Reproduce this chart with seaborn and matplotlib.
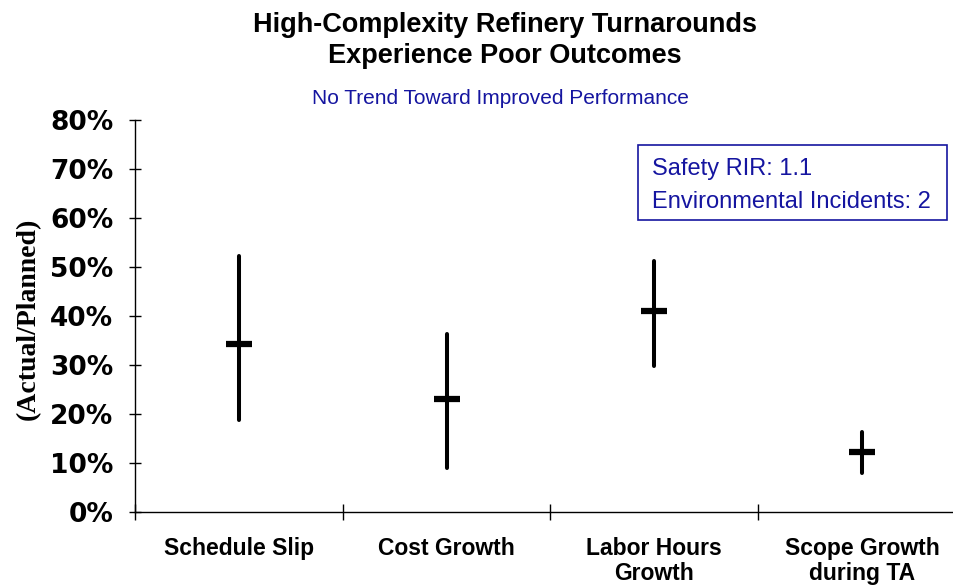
import pandas as pd
import numpy as np
import matplotlib
matplotlib.use("Agg")
import matplotlib.pyplot as plt
from matplotlib.patches import Rectangle
import seaborn as sns

# data (fractions)
categories = ["Schedule Slip", "Cost Growth", "Labor Hours\nGrowth", "Scope Growth\nduring TA"]
low_vals = [0.188, 0.090, 0.298, 0.080]
mid_vals = [0.343, 0.231, 0.410, 0.123]
high_vals = [0.522, 0.363, 0.512, 0.163]
y_ticks = [0.0, 0.1, 0.2, 0.3, 0.4, 0.5, 0.6, 0.7, 0.8]

# long form: median of (low, mid, high) = mid, 100% interval = low..high
rows = []
for c, lo, md, hi in zip(categories, low_vals, mid_vals, high_vals):
    for v in (lo, md, hi):
        rows.append({"cat": c, "val": v})
df = pd.DataFrame(rows)

sns.set_style("white")
plt.rcParams["font.family"] = ["Liberation Sans", "DejaVu Sans"]
plt.rcParams["text.color"] = "black"
plt.rcParams["axes.labelcolor"] = "black"
plt.rcParams["xtick.color"] = "black"
plt.rcParams["ytick.color"] = "black"

navy = "#1515a0"
fig = plt.figure(figsize=(9.54, 5.88), dpi=100)
ax = fig.add_axes([135 / 954, 1 - 512 / 588, (966 - 135) / 954, (512 - 120) / 588])

sns.pointplot(data=df, x="cat", y="val", order=categories, estimator="median",
              errorbar=("pi", 100), color="black", marker="_", markersize=19,
              markeredgewidth=4.5, linestyle="none", err_kws={"linewidth": 2.9}, ax=ax)

ax.set_xlim(-0.5, 3.5)
ax.set_ylim(0, 0.8)
ax.set_xlabel("")
ax.set_ylabel("")

for s in ["top", "right"]:
    ax.spines[s].set_visible(False)
for s in ["left", "bottom"]:
    ax.spines[s].set_linewidth(1.0)
    ax.spines[s].set_color("black")

# y axis
ax.set_yticks(y_ticks)
ax.set_yticklabels([f"{int(round(t * 100))}%" for t in y_ticks],
                   fontfamily="DejaVu Sans", fontweight="bold", fontsize=19, color="black")
ax.tick_params(axis="y", direction="inout", length=9, width=1, pad=11, left=True, color="black")

# x axis: boundary ticks, labels centred on categories
ax.set_xticks([-0.5, 0.5, 1.5, 2.5])
ax.set_xticklabels([])
ax.set_xticks(range(len(categories)), minor=True)
ax.set_xticklabels(categories, minor=True, fontweight="bold", fontsize=16.5, linespacing=1.1,
                   color="black")
ax.tick_params(axis="x", which="major", direction="inout", length=11, width=1, bottom=True, color="black")
ax.tick_params(axis="x", which="minor", length=0, pad=18)

# titles
fig.text(505 / 954, 1 - 32 / 588, "High-Complexity Refinery Turnarounds", ha="center",
         va="baseline", fontsize=19.5, fontweight="bold", color="black")
fig.text(505 / 954, 1 - 63 / 588, "Experience Poor Outcomes", ha="center",
         va="baseline", fontsize=19.5, fontweight="bold", color="black")
fig.text(500 / 954, 1 - 104 / 588, "No Trend Toward Improved Performance", ha="center",
         va="baseline", fontsize=15, color=navy)
fig.text(28 / 954, 1 - 319 / 588, "(Actual/Planned)", rotation=90, ha="center", va="center",
         fontfamily="Liberation Serif", fontweight="bold", fontsize=20, color="black")

# info box
fig.add_artist(Rectangle((638 / 954, 1 - 220 / 588), 309 / 954, 75 / 588, transform=fig.transFigure,
                         fill=False, edgecolor=navy, linewidth=1.2))
fig.text(652 / 954, 1 - 175 / 588, "Safety RIR: 1.1", va="baseline", fontsize=17, color=navy)
fig.text(652 / 954, 1 - 208 / 588, "Environmental Incidents: 2", va="baseline", fontsize=17, color=navy)

fig.savefig("out.png", dpi=100)
